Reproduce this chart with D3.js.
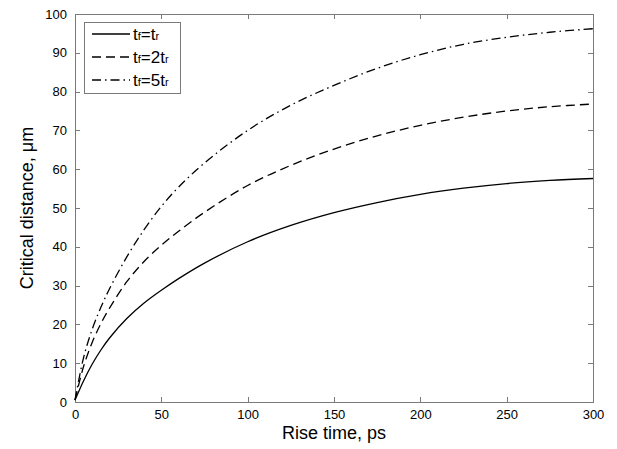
<!DOCTYPE html>
<html>
<head>
<meta charset="utf-8">
<script src="https://cdn.jsdelivr.net/npm/d3@7"></script>
<style>
  body { margin: 0; background: #fff; }
  svg { display: block; font-family: "Liberation Sans", Arial, Helvetica, sans-serif; }
</style>
</head>
<body>
<div id="chart"></div>
<script>
// rise time, ps
var riseTimes = [0, 5, 10, 15, 20, 30, 40, 50, 60, 75, 100, 125, 150, 175, 200, 225, 250, 275, 300];
// critical distance, um
var distFr1 = [0.5, 5.5, 9.8, 13.4, 16.5, 21.5, 25.5, 28.8, 31.8, 35.8, 41.3, 45.5, 48.8, 51.4, 53.5, 55.1, 56.3, 57.1, 57.6];
var distFr2 = [0.5, 9.2, 15.4, 20.2, 24.2, 31.0, 36.2, 40.4, 44.0, 48.9, 55.8, 61.0, 65.2, 68.6, 71.3, 73.4, 75.0, 76.1, 76.8];
var distFr5 = [0.5, 11.5, 18.8, 24.4, 29.2, 37.4, 44.4, 50.4, 55.4, 61.6, 70.0, 76.5, 81.6, 86.0, 89.5, 92.2, 94.0, 95.3, 96.2];

var xTicks = [0, 50, 100, 150, 200, 250, 300];
var yTicks = [0, 10, 20, 30, 40, 50, 60, 70, 80, 90, 100];

var series = [
  { sub1: "f", mid: "=t", sub2: "r", values: distFr1, dash: null },
  { sub1: "f", mid: "=2t", sub2: "r", values: distFr2, dash: "9,5" },
  { sub1: "f", mid: "=5t", sub2: "r", values: distFr5, dash: "9,4,1.5,4" }
];

var W = 617, H = 449;
var margin = { top: 14, right: 24, bottom: 47, left: 75 };
var width = W - margin.left - margin.right,
    height = H - margin.top - margin.bottom;
var axisColor = "#7a7a7a";

var svg = d3.select("#chart").append("svg").attr("width", W).attr("height", H);
var g = svg.append("g").attr("transform", "translate(" + margin.left + "," + margin.top + ")");

var x = d3.scaleLinear().domain([0, 300]).range([0, width]);
var y = d3.scaleLinear().domain([0, 100]).range([height, 0]);

// box
g.append("rect")
  .attr("x", 0).attr("y", 0)
  .attr("width", width).attr("height", height)
  .attr("fill", "none")
  .attr("stroke", axisColor)
  .attr("stroke-width", 1)
  .attr("shape-rendering", "crispEdges");

// axes with inward ticks
function styleAxis(sel, showText) {
  sel.select(".domain").remove();
  sel.selectAll(".tick line").attr("stroke", axisColor).attr("shape-rendering", "crispEdges");
  sel.selectAll(".tick text")
    .attr("fill", "#000")
    .style("font-size", "13px")
    .style("font-family", "'Liberation Sans', Arial, sans-serif");
  if (!showText) sel.selectAll(".tick text").remove();
}

g.append("g")
  .attr("transform", "translate(0," + height + ")")
  .call(d3.axisBottom(x).tickValues(xTicks).tickFormat(d3.format("d")).tickSizeInner(-5).tickPadding(8))
  .call(styleAxis, true);
g.append("g")
  .call(d3.axisTop(x).tickValues(xTicks).tickSizeInner(-5))
  .call(styleAxis, false);
g.append("g")
  .call(d3.axisLeft(y).tickValues(yTicks).tickFormat(d3.format("d")).tickSizeInner(-5).tickPadding(8))
  .call(styleAxis, true);
g.append("g")
  .attr("transform", "translate(" + width + ",0)")
  .call(d3.axisRight(y).tickValues(yTicks).tickSizeInner(-5))
  .call(styleAxis, false);

// curves
var line = d3.line()
  .x(function(d, i) { return x(riseTimes[i]); })
  .y(function(d) { return y(d); })
  .curve(d3.curveCatmullRom.alpha(0.5));

g.selectAll(".curve")
  .data(series)
  .enter().append("path")
    .attr("class", "curve")
    .attr("d", function(d) { return line(d.values); })
    .attr("fill", "none")
    .attr("stroke", "#000")
    .attr("stroke-width", 1.3)
    .attr("stroke-dasharray", function(d) { return d.dash; });

// axis titles
svg.append("text")
  .attr("x", margin.left + width / 2)
  .attr("y", 439)
  .attr("text-anchor", "middle")
  .style("font-size", "18px")
  .text("Rise time, ps");

svg.append("text")
  .attr("transform", "translate(33," + (margin.top + height / 2) + ") rotate(-90)")
  .attr("text-anchor", "middle")
  .style("font-size", "18px")
  .text("Critical distance, \u03bcm");

// legend
var legend = svg.append("g").attr("transform", "translate(84,22)");
legend.append("rect")
  .attr("width", 96).attr("height", 71)
  .attr("fill", "#fff")
  .attr("stroke", axisColor)
  .attr("shape-rendering", "crispEdges");

var rows = legend.selectAll(".row")
  .data(series)
  .enter().append("g")
    .attr("class", "row")
    .attr("transform", function(d, i) { return "translate(0," + (12 + i * 23) + ")"; });

rows.append("line")
  .attr("x1", 8).attr("x2", 46)
  .attr("stroke", "#000")
  .attr("stroke-width", 1.3)
  .attr("stroke-dasharray", function(d) { return d.dash; });

var label = rows.append("text")
  .attr("x", 49)
  .attr("y", 6)
  .style("font-size", "17px");
label.append("tspan").text("t");
label.append("tspan").style("font-size", "11px").text(function(d) { return d.sub1; });
label.append("tspan").text(function(d) { return d.mid; });
label.append("tspan").style("font-size", "11px").text(function(d) { return d.sub2; });
</script>
</body>
</html>
